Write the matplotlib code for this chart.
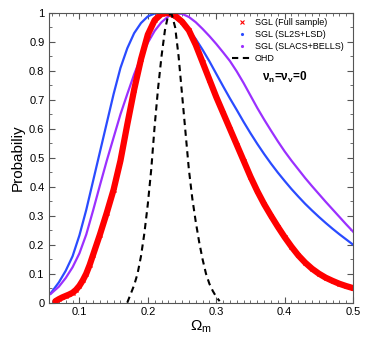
import matplotlib
matplotlib.use("Agg")
import matplotlib.pyplot as plt
from matplotlib.lines import Line2D
from matplotlib.ticker import MultipleLocator

plt.rcParams['font.family'] = ['Liberation Sans', 'DejaVu Sans']
plt.rcParams['mathtext.default'] = 'regular'

# SGL (Full sample) - red
om_full = [0.065, 0.07, 0.075, 0.08, 0.085, 0.09, 0.095, 0.10, 0.105, 0.11, 0.115, 0.12,
           0.13, 0.14, 0.15, 0.16, 0.17, 0.18, 0.19, 0.20, 0.21, 0.22, 0.23, 0.24, 0.25,
           0.26, 0.27, 0.28, 0.29, 0.30, 0.31, 0.32, 0.33, 0.34, 0.35, 0.36, 0.37, 0.38,
           0.39, 0.40, 0.41, 0.42, 0.43, 0.44, 0.45, 0.46, 0.47, 0.48, 0.49, 0.50]
p_full = [0.005, 0.012, 0.018, 0.023, 0.028, 0.034, 0.044, 0.058, 0.077, 0.10, 0.13, 0.165,
          0.235, 0.31, 0.39, 0.49, 0.615, 0.735, 0.84, 0.925, 0.975, 0.997, 1.0, 0.99, 0.97,
          0.94, 0.89, 0.83, 0.77, 0.71, 0.655, 0.60, 0.545, 0.49, 0.435, 0.385, 0.34, 0.30,
          0.262, 0.226, 0.193, 0.163, 0.138, 0.117, 0.1, 0.086, 0.075, 0.065, 0.057, 0.05]

# SGL (SL2S+LSD) - blue
om_sl2s = [0.058, 0.07, 0.08, 0.09, 0.10, 0.11, 0.12, 0.13, 0.14, 0.15, 0.16, 0.17, 0.18,
           0.19, 0.20, 0.21, 0.22, 0.23, 0.24, 0.25, 0.26, 0.27, 0.28, 0.29, 0.30, 0.31,
           0.32, 0.33, 0.34, 0.35, 0.36, 0.37, 0.38, 0.39, 0.40, 0.41, 0.42, 0.43, 0.44,
           0.45, 0.46, 0.47, 0.48, 0.49, 0.50]
p_sl2s = [0.032, 0.07, 0.11, 0.16, 0.232, 0.32, 0.42, 0.52, 0.62, 0.72, 0.81, 0.878, 0.93,
          0.965, 0.988, 0.998, 1.0, 0.995, 0.983, 0.964, 0.94, 0.91, 0.873, 0.833, 0.79, 0.747,
          0.705, 0.665, 0.624, 0.585, 0.548, 0.513, 0.48, 0.449, 0.42, 0.392, 0.366, 0.341,
          0.318, 0.296, 0.275, 0.255, 0.236, 0.218, 0.2]

# SGL (SLACS+BELLS) - purple
om_slacs = [0.058, 0.07, 0.08, 0.09, 0.10, 0.11, 0.12, 0.13, 0.14, 0.15, 0.16, 0.17, 0.18,
            0.19, 0.20, 0.21, 0.22, 0.23, 0.24, 0.25, 0.26, 0.27, 0.28, 0.29, 0.30, 0.31,
            0.32, 0.33, 0.34, 0.35, 0.36, 0.37, 0.38, 0.39, 0.40, 0.41, 0.42, 0.43, 0.44,
            0.45, 0.46, 0.47, 0.48, 0.49, 0.50]
p_slacs = [0.03, 0.055, 0.085, 0.122, 0.17, 0.235, 0.318, 0.405, 0.49, 0.57, 0.65, 0.72, 0.788,
           0.847, 0.897, 0.938, 0.968, 0.988, 0.998, 0.997, 0.986, 0.968, 0.945, 0.92, 0.893, 0.864,
           0.834, 0.798, 0.758, 0.715, 0.672, 0.632, 0.594, 0.557, 0.522, 0.49, 0.46, 0.43, 0.402,
           0.375, 0.348, 0.322, 0.296, 0.27, 0.245]

# OHD - black dashed
om_ohd = [0.17, 0.175, 0.18, 0.185, 0.19, 0.195, 0.20, 0.205, 0.21, 0.215, 0.22, 0.225,
          0.23, 0.235, 0.24, 0.245, 0.25, 0.255, 0.26, 0.265, 0.27, 0.275, 0.28, 0.285,
          0.29, 0.295, 0.30, 0.305]
p_ohd = [0.0, 0.03, 0.06, 0.10, 0.16, 0.24, 0.34, 0.46, 0.61, 0.74, 0.85, 0.94,
         0.995, 0.995, 0.95, 0.85, 0.72, 0.59, 0.46, 0.36, 0.28, 0.21, 0.15, 0.10,
         0.065, 0.04, 0.02, 0.005]

labels = ['SGL (Full sample)', 'SGL (SL2S+LSD)', 'SGL (SLACS+BELLS)', 'OHD']

fig = plt.figure(figsize=(3.74, 3.40), dpi=100)
ax = fig.add_axes([0.130, 0.110, 0.814, 0.852])

ax.plot(om_sl2s, p_sl2s, color='#2a4bff', lw=1.6, solid_joinstyle='round')
ax.plot(om_slacs, p_slacs, color='#9b30ff', lw=1.6, solid_joinstyle='round')
ax.plot(om_full, p_full, color='red', lw=4.5, marker='x', ms=3.5, mew=1.0,
        solid_joinstyle='round', solid_capstyle='round')
ax.plot(om_ohd, p_ohd, color='black', lw=1.5, ls=(0, (3, 2.2)))

ax.set_xlim(0.055, 0.5)
ax.set_ylim(0, 1)
ax.set_xticks([0.1, 0.2, 0.3, 0.4, 0.5])
ax.set_xticklabels(['0.1', '0.2', '0.3', '0.4', '0.5'])
ax.set_yticks([0, 0.1, 0.2, 0.3, 0.4, 0.5, 0.6, 0.7, 0.8, 0.9, 1])
ax.set_yticklabels(['0', '0.1', '0.2', '0.3', '0.4', '0.5', '0.6', '0.7', '0.8', '0.9', '1'])
ax.xaxis.set_minor_locator(MultipleLocator(0.01))
ax.yaxis.set_minor_locator(MultipleLocator(0.05))
ax.tick_params(which='both', direction='in', top=True, right=True, color='#555555',
               labelsize=8, pad=3)
ax.tick_params(which='major', length=4, width=0.8)
ax.tick_params(which='minor', length=2, width=0.6)
for s in ax.spines.values():
    s.set_color('#555555')
    s.set_linewidth(0.8)

ax.set_xlabel(r'$\Omega_m$', fontsize=11, labelpad=1)
ax.set_ylabel('Probabiliy', fontsize=11, labelpad=3)

handles = [
    Line2D([], [], color='red', marker='x', ls='none', ms=3, mew=0.8),
    Line2D([], [], color='#2a4bff', marker='.', ls='none', ms=2.5),
    Line2D([], [], color='#9b30ff', marker='.', ls='none', ms=2.5),
    Line2D([], [], color='black', lw=1.5, ls=(0, (3, 2.2))),
]
fig.legend(handles, labels, loc='upper left', bbox_to_anchor=(232 / 374, 1 - 18 / 340),
           frameon=False, fontsize=6.5, handlelength=2.3, handletextpad=0.2,
           labelspacing=0.35, borderpad=0, borderaxespad=0)

fig.text(262 / 374, 1 - 77 / 340, r'ν$_n$=ν$_v$=0', fontsize=8.5,
         fontweight='bold', ha='left', va='center')

fig.savefig('out.png', dpi=100)
